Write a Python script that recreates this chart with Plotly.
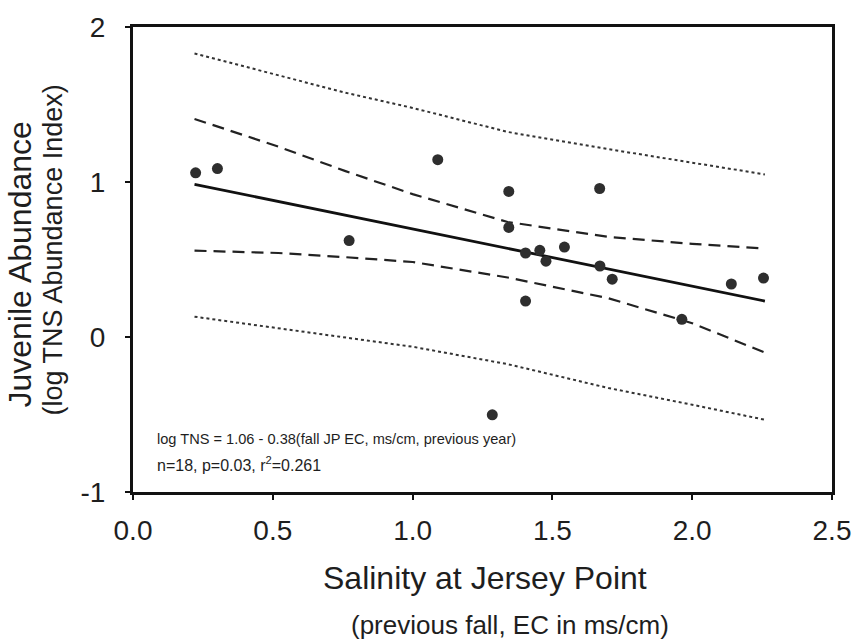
import plotly.graph_objects as go

# Observed data (salinity, log TNS index)
salinity = [0.224, 0.302, 1.090, 0.773, 1.344, 1.344, 1.669, 1.404, 1.455,
            1.477, 1.543, 1.404, 1.670, 1.714, 2.140, 2.255, 1.963, 1.285]
log_tns = [1.059, 1.087, 1.144, 0.622, 0.939, 0.707, 0.958, 0.542, 0.559,
           0.489, 0.580, 0.232, 0.458, 0.373, 0.342, 0.380, 0.114, -0.502]

# Regression line end points
fit_x = [0.22, 2.26]
fit_y = [0.985, 0.232]

# Confidence / prediction bands
band_x = [0.22, 0.52, 0.76, 1.0, 1.34, 1.7, 2.0, 2.26]
ci_upper = [1.407, 1.228, 1.070, 0.922, 0.742, 0.646, 0.601, 0.570]
ci_lower = [0.557, 0.542, 0.515, 0.484, 0.384, 0.250, 0.089, -0.101]
pi_upper = [1.829, 1.688, 1.576, 1.478, 1.323, 1.212, 1.127, 1.049]
pi_lower = [0.131, 0.057, -0.006, -0.063, -0.175, -0.329, -0.437, -0.534]

x_ticks = [0.0, 0.5, 1.0, 1.5, 2.0, 2.5]
x_ticklabels = ["0.0", "0.5", "1.0", "1.5", "2.0", "2.5"]
y_ticks = [-1, 0, 1, 2]
y_ticklabels = ["-1", "0", "1", "2"]

FONT = "Liberation Sans, Arial, sans-serif"
INK = "#1e1e1e"

fig = go.Figure()
for yy in [pi_upper, pi_lower]:
    fig.add_trace(go.Scatter(x=band_x, y=yy, mode="lines",
                             line=dict(color="#333333", width=2, dash="dot"),
                             showlegend=False, hoverinfo="skip"))
for yy in [ci_upper, ci_lower]:
    fig.add_trace(go.Scatter(x=band_x, y=yy, mode="lines",
                             line=dict(color="#222222", width=2.2, dash="12px,7px"),
                             showlegend=False, hoverinfo="skip"))
fig.add_trace(go.Scatter(x=fit_x, y=fit_y, mode="lines",
                         line=dict(color="#111111", width=2.8),
                         showlegend=False))
fig.add_trace(go.Scatter(x=salinity, y=log_tns, mode="markers",
                         marker=dict(size=11, color="#2e2e2e",
                                     line=dict(width=0)),
                         showlegend=False))

axis_common = dict(showline=True, linecolor="#111111", linewidth=3,
                   mirror=True, ticks="outside", ticklen=5, tickwidth=1.5,
                   tickcolor="#111111", showgrid=False, zeroline=False,
                   tickfont=dict(family=FONT, size=28, color=INK))

fig.update_xaxes(range=[0, 2.5], tickvals=x_ticks, ticktext=x_ticklabels,
                 ticklabelstandoff=6, **axis_common)
fig.update_yaxes(range=[-1, 2], tickvals=y_ticks, ticktext=y_ticklabels,
                 ticklabelstandoff=14, **axis_common)

ann = [
    dict(text="Juvenile Abundance", x=-0.161, y=0.49, textangle=-90,
         font=dict(size=32, family=FONT, color=INK)),
    dict(text="(log TNS Abundance Index)", x=-0.114, y=0.52, textangle=-90,
         font=dict(size=27, family=FONT, color=INK)),
    dict(text="Salinity at Jersey Point", x=0.503, y=-0.186,
         font=dict(size=32, family=FONT, color=INK)),
    dict(text="(previous fall, EC in ms/cm)", x=0.54, y=-0.285,
         font=dict(size=26, family=FONT, color=INK)),
    dict(text="log TNS = 1.06 - 0.38(fall JP EC, ms/cm, previous year)",
         x=0.032, y=0.114, xanchor="left",
         font=dict(size=14.6, family=FONT, color=INK)),
    dict(text="n=18, p=0.03, r<sup>2</sup>=0.261",
         x=0.032, y=0.061, xanchor="left",
         font=dict(size=16, family=FONT, color=INK)),
]
for a in ann:
    a.setdefault("xanchor", "center")
    a.update(xref="paper", yref="paper", showarrow=False, yanchor="middle")
fig.update_layout(annotations=ann)

fig.update_layout(width=863, height=643,
                  margin=dict(l=133, r=27, t=18, b=151),
                  paper_bgcolor="white", plot_bgcolor="white",
                  font=dict(family=FONT, color=INK))

fig.write_html("out.html")
